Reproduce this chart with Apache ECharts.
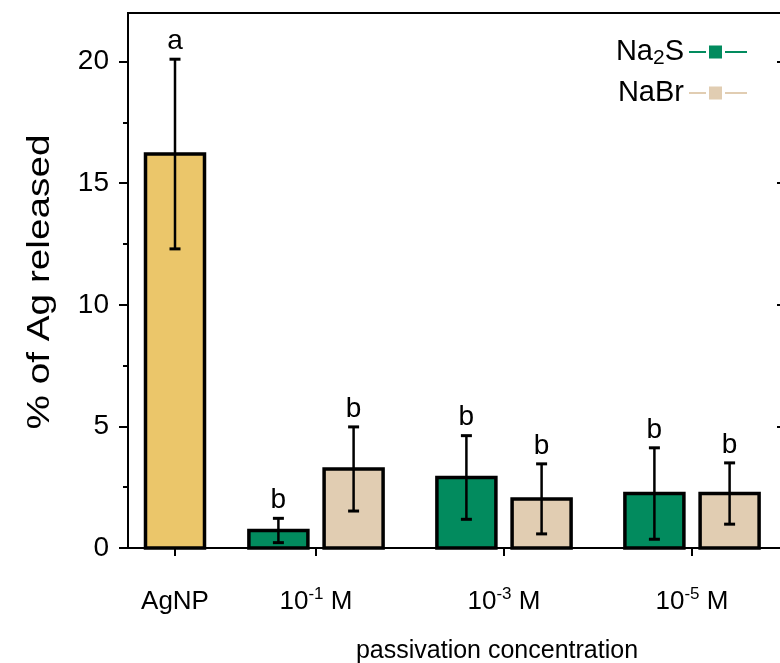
<!DOCTYPE html>
<html>
<head>
<meta charset="utf-8">
<script src="https://cdn.jsdelivr.net/npm/echarts@6/dist/echarts.min.js"></script>
<style>
html, body { margin: 0; padding: 0; background: #fff; }
#chart { width: 780px; height: 663px; }
</style>
</head>
<body>
<div id="chart"></div>
<script>
// values (% of Ag released, mean and error)
var groupLabels = ['{n|AgNP}', '{n|10}{sup|-1}{n| M}', '{n|10}{sup|-3}{n| M}', '{n|10}{sup|-5}{n| M}'];
var agnpValues = [16.2];
var agnpErrors = [3.9];
var agnpLetters = ['a'];
var na2sValues = [0.72, 2.9, 2.24];
var na2sErrors = [0.5, 1.72, 1.88];
var na2sLetters = ['b', 'b', 'b'];
var nabrValues = [3.25, 2.02, 2.24];
var nabrErrors = [1.73, 1.44, 1.26];
var nabrLetters = ['b', 'b', 'b'];
var yTicks = [0, 5, 10, 15, 20];
var yMinorTicks = [2.5, 7.5, 12.5, 17.5];

// layout: AgNP sits alone, the three concentrations are paired groups
var groupPos = [0.75, 1.5, 2.5, 3.5];
var pairOffset = 0.2;
var fontFamily = 'Liberation Sans, Arial, sans-serif';

function toData(values, errors, offset, start) {
    return values.map(function (v, i) {
        return [groupPos[start + i] + offset, v, errors[i]];
    });
}

function renderBar(fill, letters) {
    return function (params, api) {
        var x = api.value(0), v = api.value(1), e = api.value(2);
        var base = api.coord([x, 0]);
        var top = api.coord([x, v]);
        var hi = api.coord([x, v + e]);
        var lo = api.coord([x, v - e]);
        var w = 59, cap = 11;
        return {
            type: 'group',
            children: [
                { type: 'rect', shape: { x: top[0] - w / 2, y: top[1], width: w, height: base[1] - top[1] },
                  style: { fill: fill, stroke: '#000', lineWidth: 3.5 } },
                { type: 'line', shape: { x1: hi[0], y1: hi[1], x2: lo[0], y2: lo[1] },
                  style: { stroke: '#000', lineWidth: 2.5 } },
                { type: 'line', shape: { x1: hi[0] - cap / 2, y1: hi[1], x2: hi[0] + cap / 2, y2: hi[1] },
                  style: { stroke: '#000', lineWidth: 3 } },
                { type: 'line', shape: { x1: lo[0] - cap / 2, y1: lo[1], x2: lo[0] + cap / 2, y2: lo[1] },
                  style: { stroke: '#000', lineWidth: 3 } },
                { type: 'text', x: hi[0], y: hi[1] - 4,
                  style: { text: letters[params.dataIndex], fontSize: 28, fontFamily: fontFamily,
                           fill: '#000', align: 'center', verticalAlign: 'bottom' } }
            ]
        };
    };
}

var myChart = echarts.init(document.getElementById('chart'));

var legendIcon = 'path://M0,5.6H17V7.4H0Z M20,0H33V13H20Z M36,5.6H58V7.4H36Z';

var option = {
    animation: false,
    textStyle: { fontFamily: fontFamily, color: '#000' },
    grid: {
        left: 128, top: 13, right: -6, bottom: 115,
        show: true, borderColor: '#000', borderWidth: 2,
        containLabel: false, outerBoundsMode: 'none'
    },
    legend: {
        data: [{ name: 'Na2S', icon: legendIcon }, { name: 'NaBr', icon: legendIcon }],
        orient: 'vertical',
        right: 28,
        top: 32,
        align: 'right',
        itemWidth: 58,
        itemHeight: 13,
        itemGap: 9,
        formatter: function (name) {
            return name === 'Na2S' ? '{n|Na}{sub|2}{n|S}' : '{n|' + name + '}';
        },
        textStyle: {
            fontSize: 29, color: '#000', fontFamily: fontFamily,
            rich: {
                n: { fontSize: 29, lineHeight: 30, verticalAlign: 'top', fontFamily: fontFamily, color: '#000' },
                sub: { fontSize: 21, lineHeight: 21, verticalAlign: 'bottom', padding: [0, 0, -2, 0], fontFamily: fontFamily, color: '#000' }
            }
        }
    },
    graphic: [{
        type: 'text',
        x: 40, y: 282,
        rotation: Math.PI / 2,
        scaleX: 1.25,
        style: { text: '% of Ag released', fontSize: 31, fontFamily: fontFamily, fill: '#000',
                 align: 'center', verticalAlign: 'middle' }
    }],
    xAxis: {
        type: 'value',
        min: 0.5,
        max: 4,
        splitLine: { show: false },
        axisLine: { show: true, lineStyle: { color: '#000', width: 2 } },
        axisTick: { show: true, customValues: groupPos, length: 8, lineStyle: { color: '#000', width: 2 } },
        axisLabel: {
            customValues: groupPos,
            margin: 38,
            fontSize: 26,
            color: '#000',
            fontFamily: fontFamily,
            formatter: function (val) {
                return groupLabels[groupPos.indexOf(val)];
            },
            rich: {
                n: { fontSize: 26, lineHeight: 32, fontFamily: fontFamily, color: '#000' },
                sup: { fontSize: 17, lineHeight: 17, verticalAlign: 'top', fontFamily: fontFamily, color: '#000' }
            }
        },
        name: 'passivation concentration',
        nameLocation: 'middle',
        nameGap: 91,
        nameTextStyle: { fontSize: 25, color: '#000', fontFamily: fontFamily, padding: [0, 0, 0, 80] }
    },
    yAxis: [{
        type: 'value',
        min: 0,
        max: 22,
        position: 'left',
        splitLine: { show: false },
        axisLine: { show: true, lineStyle: { color: '#000', width: 2 } },
        axisTick: { show: true, customValues: yTicks, length: 9, lineStyle: { color: '#000', width: 2 } },
        axisLabel: { customValues: yTicks, fontSize: 28, margin: 19, color: '#000', fontFamily: fontFamily }
    }, {
        type: 'value',
        min: 0,
        max: 22,
        position: 'left',
        splitLine: { show: false },
        axisLine: { show: false },
        axisTick: { show: true, customValues: yMinorTicks, length: 5, lineStyle: { color: '#000', width: 2 } },
        axisLabel: { show: false }
    }, {
        type: 'value',
        min: 0,
        max: 22,
        position: 'right',
        splitLine: { show: false },
        axisLine: { show: true, lineStyle: { color: '#000', width: 2 } },
        axisTick: { show: true, inside: true, customValues: yTicks, length: 9, lineStyle: { color: '#000', width: 2 } },
        axisLabel: { show: false }
    }],
    series: [{
        name: 'AgNP',
        type: 'custom',
        renderItem: renderBar('#EBC66A', agnpLetters),
        encode: { x: 0, y: 1 },
        data: toData(agnpValues, agnpErrors, 0, 0),
        itemStyle: { color: '#EBC66A' }
    }, {
        name: 'Na2S',
        type: 'custom',
        renderItem: renderBar('#028B5E', na2sLetters),
        encode: { x: 0, y: 1 },
        data: toData(na2sValues, na2sErrors, -pairOffset, 1),
        itemStyle: { color: '#028B5E' }
    }, {
        name: 'NaBr',
        type: 'custom',
        renderItem: renderBar('#E1CDB2', nabrLetters),
        encode: { x: 0, y: 1 },
        data: toData(nabrValues, nabrErrors, pairOffset, 1),
        itemStyle: { color: '#E1CDB2' }
    }]
};

if (option && typeof option === 'object') {
    myChart.setOption(option, true);
}
</script>
</body>
</html>
